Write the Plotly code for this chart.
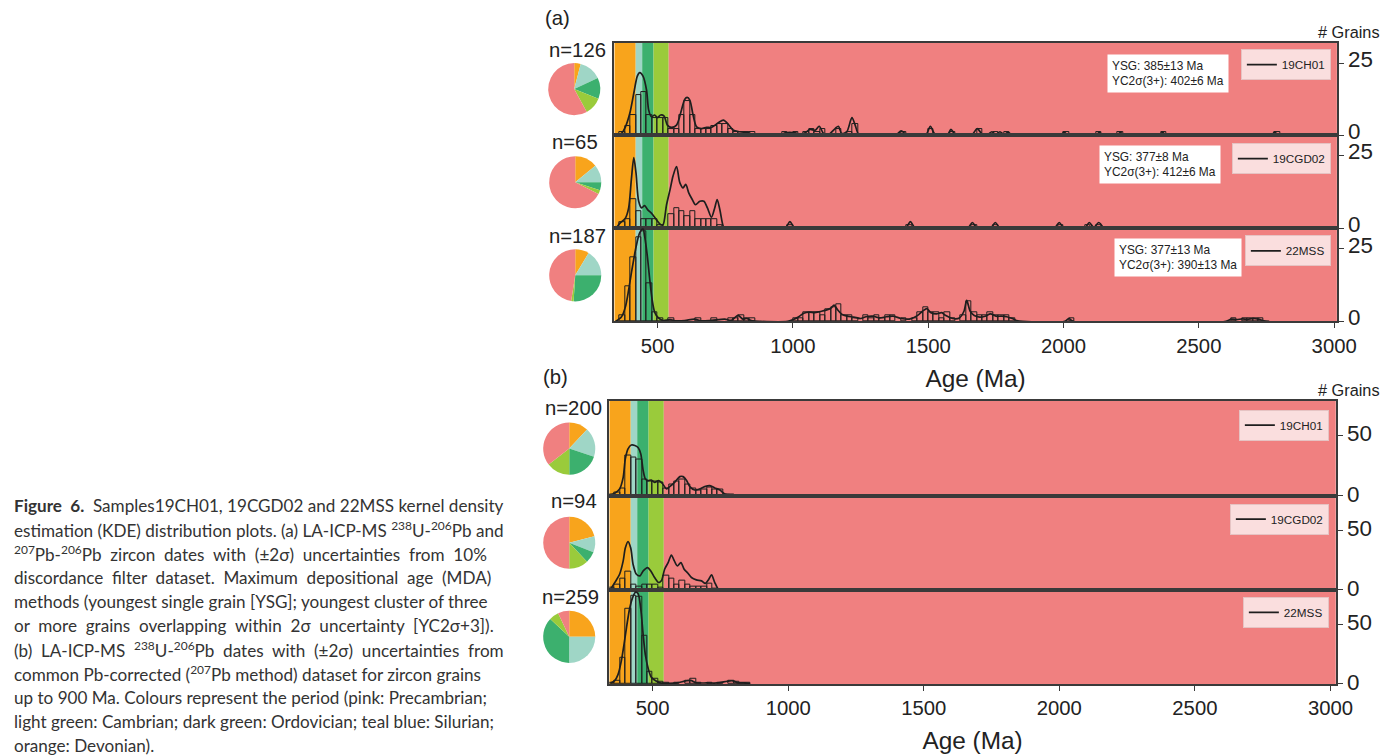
import plotly.graph_objects as go

# Reference size, and the zoom at which the page is photographed (measured from earlier renders).
RW, RH = 1392, 755
ZOOM = 0.984
W, H = round(RW / ZOOM), round(RH / ZOOM)

# ---------------- data ----------------
period_names = ["Devonian", "Silurian", "Ordovician", "Cambrian", "Precambrian"]
period_start = [340, 419, 443, 485, 541]
period_end = [419, 443, 485, 541, 3020]
period_colors = ["#F8A41C", "#9FD6C6", "#3CB06E", "#9ACB3B", "#F08080"]

samples = ["19CH01", "19CGD02", "22MSS"]
n_a = [126, 65, 187]
n_b = [200, 94, 259]
ysg = ["385±13", "377±8", "377±13"]
yc2s = ["402±6", "412±6", "390±13"]

x_ticks = [500, 1000, 1500, 2000, 2500, 3000]
bin_width = 20

# pie fractions (%): Devonian, Silurian, Ordovician, Cambrian, Precambrian
pie_a1 = [4, 14, 13, 11, 58]
pie_a2 = [14, 11, 5, 2.5, 67.5]
pie_a3 = [8.6, 16.4, 26, 1.5, 47.5]
pie_b1 = [12, 18, 20, 14.5, 35.5]
pie_b2 = [21, 10, 7, 12, 50]
pie_b3 = [25, 25, 37, 6, 7]

# ---- (a) 19CH01 ----
a1_kde_age = [347, 366, 381, 397, 413, 425, 434, 446, 459, 467, 477, 489, 499, 511, 524, 536, 551, 570, 588, 600,
              609, 619, 631, 644, 662, 681, 699, 724, 743, 761, 780, 804, 835, 860, 952, 971, 1008, 1027, 1045, 1063,
              1082, 1097, 1113, 1131, 1156, 1168, 1180, 1199, 1218, 1230, 1243, 1260, 1380, 1400, 1420, 1490, 1508,
              1525, 1570, 1584, 1600, 1660, 1681, 1700, 1720, 1735, 1750, 1765, 1780, 1795, 1810, 1990, 2003, 2016,
              2120, 2132, 2145, 2198, 2210, 2222, 2354, 2366, 2378, 2768, 2780, 2792]
a1_kde_val = [0, 0.6, 2.9, 7.5, 15.1, 20.5, 21.7, 20.5, 15.7, 8.7, 6.4, 7.0, 6.1, 7.0, 6.6, 3.5, 2.7, 3.5, 8.7, 12.4,
              13.1, 12.2, 7.0, 2.9, 2.3, 2.7, 2.7, 4.3, 5.2, 3.8, 1.7, 1.2, 0.8, 0.1, 0, 0.8, 0.8, 0.2, 0.8, 2.0,
              1.7, 3.1, 0.6, 0.2, 2.3, 3.1, 0.6, 1.2, 6.1, 3.5, 0.2, 0, 0, 1.5, 0.2, 0, 3.1,
              0.3, 0, 2.0, 0.2, 0, 2.3, 0.3, 0.2, 1.2, 0.2, 1.2, 0.2, 1.0, 0, 0, 1.0, 0,
              0, 1.0, 0, 0, 1.0, 0, 0, 1.0, 0, 0, 1.0, 0]
a1_bin_left = [360, 380, 400, 420, 440, 460, 480, 500, 520, 540, 560, 580, 600, 620, 640, 660, 680, 700, 720, 740,
               760, 780, 800, 820, 840, 960, 1000, 1040, 1060, 1080, 1100, 1160, 1200, 1220, 1400, 1500, 1580, 1680,
               1740, 1780, 2000, 2120, 2200, 2360, 2780]
a1_bin_count = [1, 3, 7, 14, 15, 7, 6, 6, 6, 2, 2, 7, 12, 7, 2, 2, 2, 3, 4, 4,
                2, 1, 1, 1, 1, 1, 1, 1, 2, 1, 2, 2, 1, 4, 1, 2, 1, 2,
                1, 1, 1, 1, 1, 1, 1]

# ---- (a) 19CGD02 ----
a2_kde_age = [347, 360, 381, 393, 403, 412, 420, 430, 441, 452, 463, 477, 496, 512, 520, 533, 546, 557, 570, 582,
              594, 604, 615, 628, 640, 656, 671, 684, 699, 711, 720, 730, 743, 750, 970, 989, 1008, 1415, 1434, 1453,
              1645, 1663, 1681, 1730, 1748, 1766, 1965, 1984, 2002, 2078, 2095, 2112, 2130, 2148]
a2_kde_val = [0, 1.7, 3.5, 7.0, 16.8, 24.3, 19.1, 9.3, 7.0, 7.8, 6.4, 5.2, 2.9, 1.2, 1.2, 8.1, 13.3, 18.0, 21.2, 15.7,
              13.9, 15.1, 12.2, 9.9, 8.1, 9.3, 9.3, 7.0, 3.8, 7.0, 9.9, 6.4, 0.6, 0, 0, 2.3, 0, 0, 2.3, 0,
              0, 2.0, 0, 0, 2.0, 0, 0, 2.0, 0, 0, 2.0, 0.3, 2.0, 0]
a2_bin_left = [360, 380, 400, 420, 440, 460, 480, 500, 540, 560, 580, 600, 620, 640, 660, 680, 700, 720, 980, 1420,
               1660, 1740, 1980, 2080, 2120]
a2_bin_count = [2, 3, 10, 6, 3, 3, 3, 1, 5, 7, 6, 4, 6, 3, 3, 3, 3, 1, 1, 1,
                1, 1, 1, 1, 1]

# ---- (a) 22MSS ----
a3_kde_age = [344, 366, 381, 393, 405, 421, 434, 446, 452, 462, 471, 480, 489, 502, 520, 545, 570, 600, 637, 660,
              700, 748, 772, 797, 815, 828, 850, 880, 980, 1000, 1020, 1040, 1060, 1080, 1100, 1120, 1140, 1152, 1165,
              1180, 1200, 1225, 1250, 1270, 1295, 1320, 1345, 1370, 1400, 1430, 1460, 1480, 1495, 1510, 1530, 1550,
              1565, 1590, 1615, 1632, 1642, 1655, 1670, 1690, 1710, 1730, 1750, 1770, 1790, 1810, 1830, 1850, 2005,
              2020, 2035, 2600, 2620, 2640, 2660, 2680, 2700, 2720, 2740, 2760]
a3_kde_val = [0, 1.5, 5, 10.8, 17.7, 25.9, 30.5, 31.8, 29.3, 22.4, 14.3, 7.3, 3.2, 1.3, 0.3, 0.6, 0.2, 0.3, 0.8, 0.2,
              0.4, 0.8, 0.4, 2.1, 0.8, 1.0, 0.2, 0, 0, 0.6, 1.5, 2.8, 3.2, 3.0, 3.4, 3.8, 4.5, 5.6, 4.0,
              2.5, 1.8, 1.5, 1.0, 1.6, 1.8, 1.2, 1.6, 1.8, 1.0, 0.8, 2.0, 3.6, 4.4, 3.0, 2.6, 3.0,
              2.0, 1.0, 1.2, 3.5, 7.2, 3.5, 2.0, 1.5, 1.8, 2.6, 1.8, 1.8, 1.6, 1.0, 0.2, 0, 0,
              1.0, 0, 0, 0.8, 0.6, 0.9, 0.7, 1.0, 0.8, 0.2, 0]
a3_bin_left = [360, 380, 400, 420, 440, 460, 480, 500, 540, 640, 700, 760, 780, 800, 820, 840, 1000, 1020, 1040,
               1060, 1080, 1100, 1120, 1140, 1160, 1180, 1200, 1220, 1260, 1280, 1300, 1320, 1340, 1360, 1400, 1440,
               1460, 1480, 1500, 1520, 1540, 1560, 1580, 1620, 1640, 1660, 1680, 1700, 1720, 1740, 1760, 1780, 1800,
               2020, 2620, 2660, 2680, 2700, 2720]
a3_bin_count = [2, 12, 22, 29, 31, 13, 3, 1, 1, 1, 1, 1, 1, 2, 1, 1, 1, 1, 3,
                3, 3, 2, 4, 5, 6, 2, 2, 1, 2, 1, 2, 1, 2, 2, 1, 1,
                3, 5, 3, 3, 1, 3, 1, 2, 7, 3, 2, 2, 3, 2, 2, 2, 1,
                1, 1, 1, 1, 1, 1]

# ---- (b) 19CH01 ----
b1_kde_age = [345, 360, 378, 391, 399, 409, 421, 434, 446, 456, 465, 473, 483, 495, 507, 522, 535, 551, 563, 581,
              600, 612, 625, 637, 655, 674, 692, 711, 729, 748, 766, 791, 820, 853]
b1_kde_val = [0.5, 2, 5.6, 15, 30.5, 38.9, 42, 41.7, 40, 34.7, 20.8, 13.9, 12.5, 13, 11, 12.5, 10.3, 5.6, 7.5, 11,
              15.8, 15.8, 12.5, 7.5, 4.7, 5.6, 7.5, 8.3, 6.4, 4.7, 1.4, 0.6, 0.4, 0]
b1_bin_left = [340, 360, 380, 400, 420, 440, 460, 480, 500, 520, 540, 560, 580, 600, 620, 640, 660, 680, 700, 720,
               740, 760, 780]
b1_bin_count = [1, 3, 6, 33, 32, 30, 13, 12, 12, 11, 6, 9, 12, 13, 9, 6, 4, 5, 7, 5,
                5, 1, 1]

# ---- (b) 19CGD02 ----
b2_kde_age = [345, 360, 378, 391, 399, 409, 419, 428, 440, 453, 465, 481, 493, 507, 522, 532, 544, 557, 569, 579,
              591, 604, 616, 628, 643, 661, 680, 694, 707, 717, 729, 742, 748]
b2_kde_val = [0.5, 6, 13, 24, 35, 40.5, 35, 21, 13, 11.7, 15.8, 18.6, 15.8, 10.3, 6.1, 7.5, 17.2, 22.8, 29.2, 24.7,
              20, 22.8, 17.2, 14.4, 10.3, 8.3, 7.5, 5.3, 8.9, 12.5, 6.1, 0.5, 0]
b2_bin_left = [340, 360, 380, 400, 420, 440, 460, 480, 500, 520, 540, 560, 580, 600, 620, 640, 660, 680, 700, 720]
b2_bin_count = [2, 4, 9, 15, 4, 3, 4, 4, 4, 2, 12, 9, 4, 8, 4, 3, 3, 3, 5, 1]

# ---- (b) 22MSS ----
b3_kde_age = [345, 360, 372, 384, 394, 403, 415, 427, 437, 446, 456, 465, 473, 483, 495, 514, 532, 560, 590, 622,
              640, 660, 700, 740, 775, 795, 815, 835, 860]
b3_kde_val = [0.8, 2.8, 7.8, 18.9, 32.8, 46.7, 63.3, 73, 77, 75.8, 63, 41, 24.4, 13.3, 5.6, 2.2, 0.6, 0.5, 0.8, 2.5,
              3.0, 1.0, 0.8, 0.8, 2.2, 2.6, 0.9, 0.8, 0]
b3_bin_left = [340, 360, 380, 400, 420, 440, 460, 480, 500, 520, 540, 580, 620, 640, 660, 700, 740, 780, 800, 820, 840]
b3_bin_count = [1, 3, 22, 63, 74, 73, 40, 10, 4, 2, 1, 1, 3, 4, 1, 1, 1, 3, 2, 1, 1]

caption_lines = [
    "<b>Figure  6.</b>  Samples19CH01, 19CGD02 and 22MSS kernel density",
    "estimation (KDE) distribution plots. (a) LA-ICP-MS <sup>238</sup>U-<sup>206</sup>Pb and",
    "<sup>207</sup>Pb-<sup>206</sup>Pb  zircon  dates  with  (±2σ)  uncertainties  from  10%",
    "discordance  filter  dataset.  Maximum  depositional  age  (MDA)",
    "methods (youngest single grain [YSG]; youngest cluster of three",
    "or  more  grains  overlapping  within  2σ  uncertainty  [YC2σ+3]).",
    "(b)  LA-ICP-MS  <sup>238</sup>U-<sup>206</sup>Pb  dates  with  (±2σ)  uncertainties  from",
    "common Pb-corrected (<sup>207</sup>Pb method) dataset for zircon grains",
    "up to 900 Ma. Colours represent the period (pink: Precambrian;",
    "light green: Cambrian; dark green: Ordovician; teal blue: Silurian;",
    "orange: Devonian).",
]


# ---------------- layout geometry (reference pixels) ----------------
def fx(px):
    return px / RW


def fy(py):
    return 1 - py / RH


def fsz(s):
    return round(s / ZOOM, 1)


FONT = "Liberation Sans"
groups = [
    dict(xl=613, xr=1334, bounds=[43, 135, 228, 321], yrange=[0, 32], ytick=25, xrange=[340, 3010], yshift=-4,
         label="(a)", label_xy=(556, 18), grains_y=32,
         pies=[pie_a1, pie_a2, pie_a3], ns=n_a,
         pie_c=[(573, 89), (574, 182), (574, 275)], n_c=[(576, 50), (574, 142), (576, 236)],
         kde=[(a1_kde_age, a1_kde_val), (a2_kde_age, a2_kde_val), (a3_kde_age, a3_kde_val)],
         hist=[(a1_bin_left, a1_bin_count), (a2_bin_left, a2_bin_count), (a3_bin_left, a3_bin_count)],
         leg=[(1328, 49), (1328, 143), (1328, 235)],
         box=[(1105, 54), (1097, 145), (1112, 238)]),
    dict(xl=608, xr=1333, bounds=[400, 495, 589, 683], yrange=[0, 79], ytick=50, xrange=[340, 3020], yshift=-2,
         label="(b)", label_xy=(554, 377), grains_y=389,
         pies=[pie_b1, pie_b2, pie_b3], ns=n_b,
         pie_c=[(568, 448), (568, 542), (568, 636)], n_c=[(572, 407), (573, 500), (569, 596)],
         kde=[(b1_kde_age, b1_kde_val), (b2_kde_age, b2_kde_val), (b3_kde_age, b3_kde_val)],
         hist=[(b1_bin_left, b1_bin_count), (b2_bin_left, b2_bin_count), (b3_bin_left, b3_bin_count)],
         leg=[(1326, 409), (1326, 503), (1326, 596)],
         box=None),
]

fig = go.Figure()
annotations = []
shapes = []
layout_axes = {}
idx = 0


def paper_text(text, px, py, size, family=FONT, color="#222", xanchor="center", **kw):
    return dict(text=text, x=fx(px), y=fy(py), xref="paper", yref="paper", xanchor=xanchor,
                yanchor="middle", showarrow=False, font=dict(size=fsz(size), family=family, color=color), **kw)


for g in groups:
    for p in range(3):
        idx += 1
        xs = "x" if idx == 1 else f"x{idx}"
        ys = "y" if idx == 1 else f"y{idx}"
        xkey = "xaxis" if idx == 1 else f"xaxis{idx}"
        ykey = "yaxis" if idx == 1 else f"yaxis{idx}"
        lkey = "legend" if idx == 1 else f"legend{idx}"
        top, bot = g["bounds"][p], g["bounds"][p + 1]
        bottom_panel = (p == 2)
        xa = dict(
            domain=[fx(g["xl"]), fx(g["xr"])], range=g["xrange"], anchor=ys,
            showline=True, mirror=True, linecolor="#3a3a3a", linewidth=1.5,
            showgrid=False, zeroline=False, tickvals=x_ticks,
            ticks="outside" if bottom_panel else "", ticklen=5, tickcolor="#3a3a3a",
            showticklabels=bottom_panel, tickfont=dict(size=fsz(20), family=FONT, color="#222"),
        )
        if bottom_panel:
            xa["title"] = dict(text="Age (Ma)", font=dict(size=fsz(24), family=FONT, color="#222"), standoff=14)
        layout_axes[xkey] = xa
        layout_axes[ykey] = dict(
            domain=[fy(bot), fy(top)], range=g["yrange"], anchor=xs, side="right",
            showline=True, mirror=True, linecolor="#3a3a3a", linewidth=1.5,
            showgrid=False, zeroline=False, tickvals=[0, g["ytick"]],
            ticks="outside", ticklen=5, tickcolor="#3a3a3a",
            tickfont=dict(size=fsz(22), family=FONT, color="#222"), ticklabelshift=g["yshift"],
        )
        # period background bands
        for ps, pe, pc in zip(period_start, period_end, period_colors):
            shapes.append(dict(type="rect", xref=xs, yref=f"{ys} domain", x0=ps, x1=pe, y0=0, y1=1,
                               fillcolor=pc, line=dict(width=0), layer="below"))
        # histogram
        bl, bc = g["hist"][p]
        fig.add_trace(go.Bar(x=bl, y=bc, width=bin_width, offset=0, xaxis=xs, yaxis=ys,
                             marker=dict(color="rgba(0,0,0,0)", line=dict(color="#1e1e1e", width=1)),
                             showlegend=False, hoverinfo="skip"))
        # KDE
        ka, kv = g["kde"][p]
        fig.add_trace(go.Scatter(x=ka, y=kv, mode="lines", xaxis=xs, yaxis=ys, name=samples[p],
                                 line=dict(color="#1e1e1e", width=1.7, shape="spline", smoothing=0.8),
                                 legend=lkey, showlegend=True, hoverinfo="skip"))
        lx, ly = g["leg"][p]
        layout_axes[lkey] = dict(x=fx(lx), xanchor="right", y=fy(ly), yanchor="top",
                                 bgcolor="#FADEDE", bordercolor="#E6C3C3", borderwidth=1,
                                 font=dict(size=fsz(11.5), family=FONT, color="#222"), itemwidth=30)
        # pie
        cx, cy = g["pie_c"][p]
        r = 26
        fig.add_trace(go.Pie(values=g["pies"][p], labels=period_names, sort=False, direction="clockwise",
                             rotation=0, textinfo="none", showlegend=False, hoverinfo="skip",
                             marker=dict(colors=period_colors, line=dict(width=0)),
                             domain=dict(x=[fx(cx - r), fx(cx + r)], y=[fy(cy + r), fy(cy - r)])))
        nx, ny = g["n_c"][p]
        annotations.append(paper_text(f"n={g['ns'][p]}", nx, ny, 20))
        if g["box"] is not None:
            bx, by = g["box"][p]
            annotations.append(dict(text=f"YSG: {ysg[p]} Ma<br>YC2σ(3+): {yc2s[p]} Ma", x=fx(bx), y=fy(by),
                                    xref="paper", yref="paper", xanchor="left", yanchor="top", align="left",
                                    showarrow=False, bgcolor="white", borderpad=4,
                                    font=dict(size=fsz(11.7), family=FONT, color="#222")))
    lx, ly = g["label_xy"]
    annotations.append(paper_text(g["label"], lx, ly, 20))
    annotations.append(paper_text("# Grains", 1346, g["grains_y"], 16))

for k, line in enumerate(caption_lines):
    annotations.append(paper_text(line, 12, 505 + 24 * k, 16.8, family="Lato", color="#333", xanchor="left",
                                  align="left"))

fig.update_layout(width=W, height=H, margin=dict(l=0, r=0, t=0, b=0), paper_bgcolor="white",
                  plot_bgcolor="white", shapes=shapes, annotations=annotations, bargap=0,
                  hovermode=False, **layout_axes)

# remove the default page margin so the figure starts at the window corner
page_fix = ("document.body.style.margin='0';document.body.style.overflow='hidden';"
            "document.documentElement.style.overflow='hidden';")
fig.write_html("out.html", post_script=page_fix, config={"displayModeBar": False})
